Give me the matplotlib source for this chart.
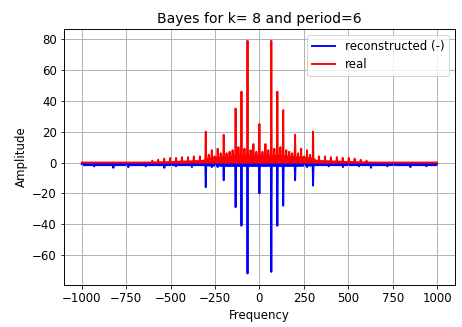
import numpy as np
import matplotlib.pyplot as plt

# main harmonic peaks (Hz), real spectrum and reconstructed (shown negated)
peak_freq = [-302, -285, -268, -252, -235, -218, -201, -185, -168, -151, -134, -118, -101, -84,
             -67, -50, -34, -17, 0, 17, 34, 50, 67, 84, 101, 118, 134, 151, 168, 185, 201,
             218, 235, 252, 268, 285, 302]
real_peaks = [20, 5, 8, 4, 9, 6, 18, 6, 7, 8, 35, 10, 46, 9,
              79, 8, 12, 7, 25, 7, 12, 8, 79, 9, 46, 10, 34, 8, 7, 6, 18,
              6, 9, 4, 8, 5, 20]
recon_peaks = [16, 1, 3, 1, 3, 1, 11.5, 1, 2, 1, 29, 2, 41, 2,
               72, 1, 2, 1, 20, 1, 2, 1, 71, 2, 41, 2, 28, 1, 2, 1, 11.5,
               1, 2, 1, 3, 1, 15]

# smaller sidelobes of the real spectrum outside +-300 Hz
side_freq = [-603, -570, -536, -503, -469, -436, -402, -369, -335,
             335, 369, 402, 436, 469, 503, 536, 570, 603]
real_side = [1.2, 1.8, 2.5, 3, 3, 3.5, 3.5, 4, 4,
             4, 4, 3.5, 3.5, 3, 3, 2.5, 1.8, 1.2]

# little dips in the reconstructed noise floor
noise_freq = [-930, -822, -738, -640, -535, -470, -380, 390, 470, 560, 628, 720, 850, 940]
recon_noise = [2.5, 3.5, 3, 2.5, 3.5, 2.5, 3, 2.5, 3, 2.5, 3.5, 2.5, 3, 2.5]

# envelope of the dense noise floor
floor_freq = [-1000, -700, -600, -450, -320, -300, -200, -100, 0, 100, 200, 300, 320, 450, 600, 700, 1000]
real_floor = [0.3, 0.4, 0.8, 1.5, 2, 3.5, 4.5, 5.5, 5.5, 5.5, 4.5, 3.5, 2, 1.5, 0.8, 0.4, 0.3]
recon_floor = [2, 2, 2, 2, 2, 2.2, 2.5, 2.5, 2.5, 2.5, 2.5, 2.2, 2, 2, 2, 2, 2]


def spike_path(freqs, heights, start, end, base=0.0, w=2.5):
    pts = sorted(zip(freqs, heights))
    x, y = [start], [base]
    for f, h in pts:
        x += [f - w, f, f + w]
        y += [base, h, base]
    x.append(end)
    y.append(base)
    return np.array(x), np.array(y)


rx, ry = spike_path(peak_freq + side_freq, real_peaks + real_side,
                    floor_freq[0], floor_freq[-1], base=0.0)
bx, by = spike_path(peak_freq + noise_freq, recon_peaks + recon_noise,
                    floor_freq[0], floor_freq[-1], base=1.0)

plt.rcParams['font.size'] = 11.7
plt.rcParams['grid.linewidth'] = 0.95
plt.rcParams['axes.linewidth'] = 0.95
fig = plt.figure(figsize=(462 / 72, 327 / 72), dpi=72)
ax = fig.add_axes([0.1385, 0.128, 0.846, 0.783])

ax.plot(bx, -by, color='blue', lw=1.9, label='reconstructed (-)')
ax.fill_between(floor_freq, 0, -np.array(recon_floor), color='blue', lw=0)
ax.plot(rx, ry, color='red', lw=1.9, label='real')
ax.fill_between(floor_freq, -0.5, real_floor, color='red', lw=0)

ax.set_title('Bayes for k= 8 and period=6')
ax.set_xlabel('Frequency')
ax.set_ylabel('Amplitude')
ax.grid(True)
ax.legend(loc='upper right')

fig.savefig('out.png', dpi=72)
